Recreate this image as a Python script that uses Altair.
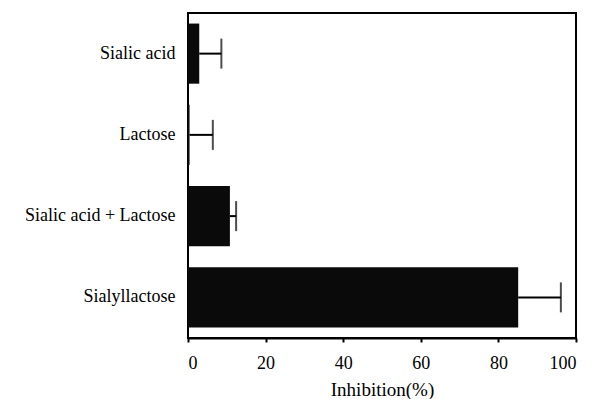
import altair as alt
import pandas as pd

categories = ["Sialic acid", "Lactose", "Sialic acid + Lactose", "Sialyllactose"]
values = [2.9, 0.4, 10.8, 85.1]
errors = [5.7, 6.0, 1.6, 11.0]
x_ticks = [0, 20, 40, 60, 80, 100]

df = pd.DataFrame({"cat": categories, "val": values, "err": errors})
df["hi"] = df["val"] + df["err"]

FONT = "'Liberation Serif', 'Times New Roman', Times, serif"

y_enc = alt.Y("cat:N", sort=categories, title=None,
              scale=alt.Scale(paddingInner=0.26, paddingOuter=0.13),
              axis=alt.Axis(ticks=False, domain=False, labelPadding=13,
                            labelFont=FONT, labelFontSize=18, labelColor="black",
                            labelLimit=300))
x_scale = alt.Scale(domain=[0, 100], nice=False)
x_axis = alt.Axis(values=x_ticks, grid=False, tickSize=4, tickColor="black",
                  tickWidth=2, domainColor="black", domainWidth=2,
                  labelFont=FONT, labelFontSize=18, labelColor="black",
                  labelPadding=12, title="Inhibition(%)", titleFont=FONT,
                  titleFontSize=19, titleFontWeight="normal", titleColor="black",
                  titlePadding=8)

bars = alt.Chart(df).mark_bar(color="#0a0a0a").encode(
    x=alt.X("val:Q", scale=x_scale, axis=x_axis),
    y=y_enc,
)
whisk = alt.Chart(df).mark_rule(color="black", strokeWidth=2).encode(
    x=alt.X("val:Q", scale=x_scale),
    x2="hi:Q",
    y=alt.Y("cat:N", sort=categories),
)
caps = alt.Chart(df).mark_tick(color="black", thickness=2, size=30).encode(
    x=alt.X("hi:Q", scale=x_scale),
    y=alt.Y("cat:N", sort=categories),
)

chart = alt.layer(bars, whisk, caps).properties(
    width=388, height=325,
    autosize=alt.AutoSizeParams(type="none"),
    padding={"left": 180, "top": 5, "right": 17, "bottom": 62},
    background="white",
).configure_view(stroke="black", strokeWidth=2, strokeOpacity=1)

chart.save("out.html", embed_options={"renderer": "svg", "actions": False})
